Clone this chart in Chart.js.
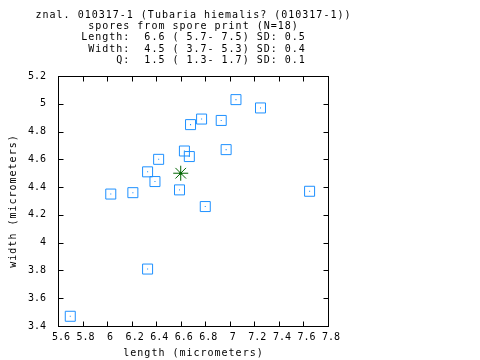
<!DOCTYPE html>
<html><head><meta charset="utf-8">
<script src="https://cdn.jsdelivr.net/npm/chart.js@4.4.1/dist/chart.umd.min.js"></script>
<style>html,body{margin:0;padding:0;background:#fff}canvas{display:block}</style>
</head><body>
<canvas id="c" width="480" height="360"></canvas>
<script>
const titleLines = [
  'znal. 010317-1 (Tubaria hiemalis? (010317-1))',
  'spores from spore print (N=18)',
  'Length:  6.6 ( 5.7- 7.5) SD: 0.5',
  ' Width:  4.5 ( 3.7- 5.3) SD: 0.4',
  '     Q:  1.5 ( 1.3- 1.7) SD: 0.1'
];
const sporeLength = [5.70, 6.03, 6.21, 6.33, 6.33, 6.39, 6.42, 6.59, 6.63, 6.67, 6.68, 6.77, 6.80, 6.93, 6.97, 7.05, 7.25, 7.65];
const sporeWidth  = [3.47, 4.35, 4.36, 3.81, 4.51, 4.44, 4.60, 4.38, 4.66, 4.62, 4.85, 4.89, 4.26, 4.88, 4.67, 5.03, 4.97, 4.37];
const meanLength = [6.6];
const meanWidth = [4.5];
const xTicks = [5.6, 5.8, 6.0, 6.2, 6.4, 6.6, 6.8, 7.0, 7.2, 7.4, 7.6, 7.8];
const xTickLabels = ['5.6', '5.8', '6', '6.2', '6.4', '6.6', '6.8', '7', '7.2', '7.4', '7.6', '7.8'];
const yTicks = [3.4, 3.6, 3.8, 4.0, 4.2, 4.4, 4.6, 4.8, 5.0, 5.2];
const yTickLabels = ['3.4', '3.6', '3.8', '4', '4.2', '4.4', '4.6', '4.8', '5', '5.2'];
const xTitle = 'length (micrometers)';
const yTitle = 'width (micrometers)';

const FONT_FAMILY = '"DejaVu Sans Mono", "Liberation Mono", monospace';
const FONT_SIZE = 10;
const BLUE = 'rgb(30,144,255)';
const GREEN = 'rgb(0,100,0)';

const sporePts = sporeLength.map((v, i) => ({x: v, y: sporeWidth[i]}));
const meanPts = meanLength.map((v, i) => ({x: v, y: meanWidth[i]}));

const canvas = document.getElementById('c');
const ctx0 = canvas.getContext('2d');
ctx0.letterSpacing = '1px';

const framePlugin = {
  id: 'frame',
  beforeDatasetsDraw(chart) {
    const {ctx, chartArea: a, scales: {x, y}} = chart;
    ctx.save();
    ctx.strokeStyle = '#000';
    ctx.lineWidth = 1;
    const L = Math.round(a.left) + 0.5, R = Math.round(a.right) + 0.5;
    const T = Math.round(a.top) + 0.5, B = Math.round(a.bottom) + 0.5;
    ctx.strokeRect(L, T, R - L, B - T);
    ctx.beginPath();
    x.ticks.forEach(t => {
      const px = Math.round(x.getPixelForValue(t.value)) + 0.5;
      ctx.moveTo(px, B); ctx.lineTo(px, B - 5);
      ctx.moveTo(px, T); ctx.lineTo(px, T + 5);
    });
    y.ticks.forEach(t => {
      const py = Math.round(y.getPixelForValue(t.value)) + 0.5;
      ctx.moveTo(L, py); ctx.lineTo(L + 5, py);
      ctx.moveTo(R, py); ctx.lineTo(R - 5, py);
    });
    ctx.stroke();
    ctx.fillStyle = '#000';
    ctx.letterSpacing = '1px';
    ctx.font = FONT_SIZE + 'px ' + FONT_FAMILY;
    ctx.textAlign = 'center';
    ctx.textBaseline = 'middle';
    const cx = (a.left + a.right) / 2 + 0.5;
    titleLines.forEach((s, i) => ctx.fillText(s, cx, 15.5 + i * 11.2));
    ctx.fillText(xTitle, cx, 353.5);
    ctx.translate(13, (a.top + a.bottom) / 2);
    ctx.rotate(-Math.PI / 2);
    ctx.fillText(yTitle, 0, 0);
    ctx.restore();
  }
};

new Chart(canvas, {
  type: 'scatter',
  data: {
    datasets: [
      {data: sporePts, pointStyle: 'rect', pointRadius: 7.07, pointBorderWidth: 1,
       borderColor: BLUE, backgroundColor: 'rgba(0,0,0,0)'},
      {data: sporePts, pointStyle: 'rect', pointRadius: 0.75, pointBorderWidth: 0,
       borderColor: BLUE, backgroundColor: BLUE},
      {data: meanPts, pointStyle: 'star', pointRadius: 7.5, pointBorderWidth: 1,
       borderColor: GREEN, backgroundColor: GREEN},
      {data: meanPts, pointStyle: 'circle', pointRadius: 1.5, pointBorderWidth: 0,
       borderColor: GREEN, backgroundColor: GREEN}
    ]
  },
  options: {
    responsive: false,
    animation: false,
    events: [],
    layout: {padding: {left: 0, top: 76, right: 152, bottom: 0}},
    plugins: {legend: {display: false}, tooltip: {enabled: false}, title: {display: false}},
    scales: {
      x: {
        type: 'linear', min: 5.6, max: 7.8,
        afterBuildTicks: s => { s.ticks = xTicks.map(v => ({value: v})); },
        afterFit: s => { s.height = 34; },
        grid: {display: false, drawTicks: false},
        border: {display: false},
        ticks: {
          callback: (v, i) => xTickLabels[i],
          font: {family: FONT_FAMILY, size: FONT_SIZE},
          color: '#000', padding: 5, labelOffset: 3, maxRotation: 0, autoSkip: false
        }
      },
      y: {
        type: 'linear', min: 3.4, max: 5.2,
        afterBuildTicks: s => { s.ticks = yTicks.map(v => ({value: v})); },
        afterFit: s => { s.width = 58; },
        grid: {display: false, drawTicks: false},
        border: {display: false},
        ticks: {
          callback: (v, i) => yTickLabels[i],
          font: {family: FONT_FAMILY, size: FONT_SIZE},
          color: '#000', padding: 12, autoSkip: false
        }
      }
    }
  },
  plugins: [framePlugin]
});
</script>
</body></html>
